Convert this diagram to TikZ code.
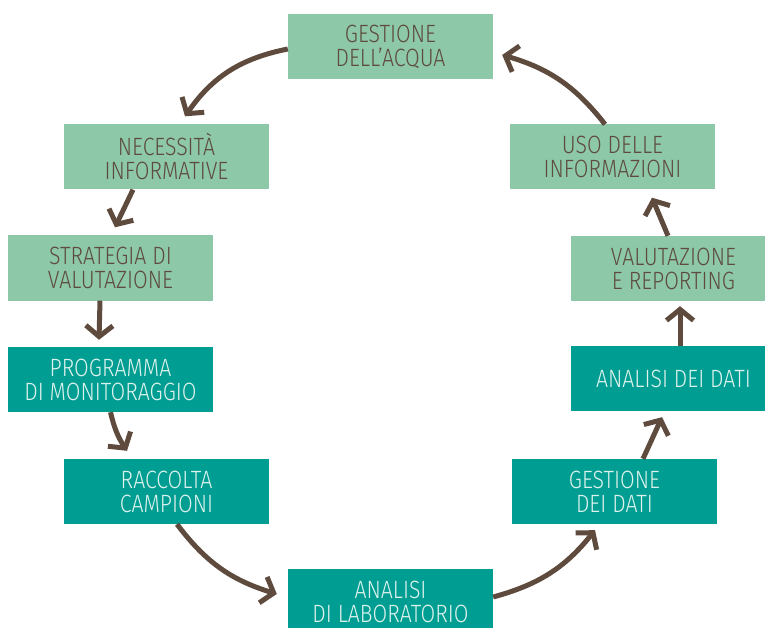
\documentclass[tikz,border=0pt]{standalone}
\usepackage{fontspec}
\setmainfont{Fira Sans}[UprightFont=* Light,FakeStretch=0.85]
\usetikzlibrary{arrows.meta,calc}
\definecolor{lgreen}{HTML}{8DC8A9}
\definecolor{tealbox}{HTML}{009E92}
\definecolor{arrbrown}{HTML}{5E4B3E}
\definecolor{tdark}{HTML}{5E4B3E}
\definecolor{tlight}{HTML}{DDF2EC}
\begin{document}
\begin{tikzpicture}[x=1pt,y=-1pt,
  box/.style={minimum width=205pt,minimum height=65pt,inner sep=0pt,align=center,
    font=\fontsize{25}{24}\selectfont},
  lbox/.style={box,fill=lgreen,text=tdark},
  tbox/.style={box,fill=tealbox,text=tlight},
  arr/.style={draw=arrbrown,line width=5pt,-{Straight Barb[length=11pt,width=27pt]}}]
\useasboundingbox (0,0) rectangle (765,628);
\node[lbox] (acqua) at (390.5,46.5) {GESTIONE\\DELL’ACQUA};
\node[lbox] (necess) at (166.5,157) {NECESSITÀ\\INFORMATIVE};
\node[lbox] (strat) at (110.5,268) {STRATEGIA DI\\VALUTAZIONE};
\node[tbox] (prog) at (110.5,379.5) {PROGRAMMA\\DI MONITORAGGIO};
\node[tbox] (racc) at (166.5,491.5) {RACCOLTA\\CAMPIONI};
\node[tbox] (lab) at (390.5,601.5) {ANALISI\\DI LABORATORIO};
\node[tbox] (gdati) at (614.5,491.5) {GESTIONE\\DEI DATI};
\node[tbox] (adati) at (673.5,378.5) {ANALISI DEI DATI};
\node[lbox] (valut) at (673.5,268.5) {VALUTAZIONE\\E REPORTING};
\node[lbox] (uso) at (612.5,157) {USO DELLE\\INFORMAZIONI};

\draw[arr] ([yshift=-2.5pt]acqua.west) to[bend right=22] ([xshift=18.5pt,yshift=8pt]necess.north);
\draw[arr] ([xshift=-33.5pt]necess.south) to ([xshift=4.5pt,yshift=8pt]strat.north);
\draw[arr] ([xshift=-10.5pt]strat.south) to ([xshift=-11.5pt,yshift=7pt]prog.north);
\draw[arr] (prog.south) to[bend right=10] ([xshift=-39.5pt,yshift=8pt]racc.north);
\draw[arr] ([xshift=10.5pt]racc.south) to[bend right=18] ([xshift=-11pt,yshift=7.5pt]lab.west);
\draw[arr] ([yshift=4.5pt]lab.east) to[bend right=18] ([xshift=-19.5pt,yshift=-6pt]gdati.south);
\draw[arr] ([xshift=28.5pt]gdati.north) to ([xshift=-11.5pt,yshift=-6pt]adati.south);
\draw[arr] ([xshift=6.5pt]adati.north) to ([xshift=6.5pt,yshift=-5pt]valut.south);
\draw[arr] ([xshift=-5.5pt]valut.north) to ([xshift=39.5pt,yshift=-8pt]uso.south);
\draw[arr] ([xshift=-7.5pt]uso.north) to[bend right=18] ([xshift=9pt,yshift=-8.5pt]acqua.east);
\end{tikzpicture}
\end{document}
